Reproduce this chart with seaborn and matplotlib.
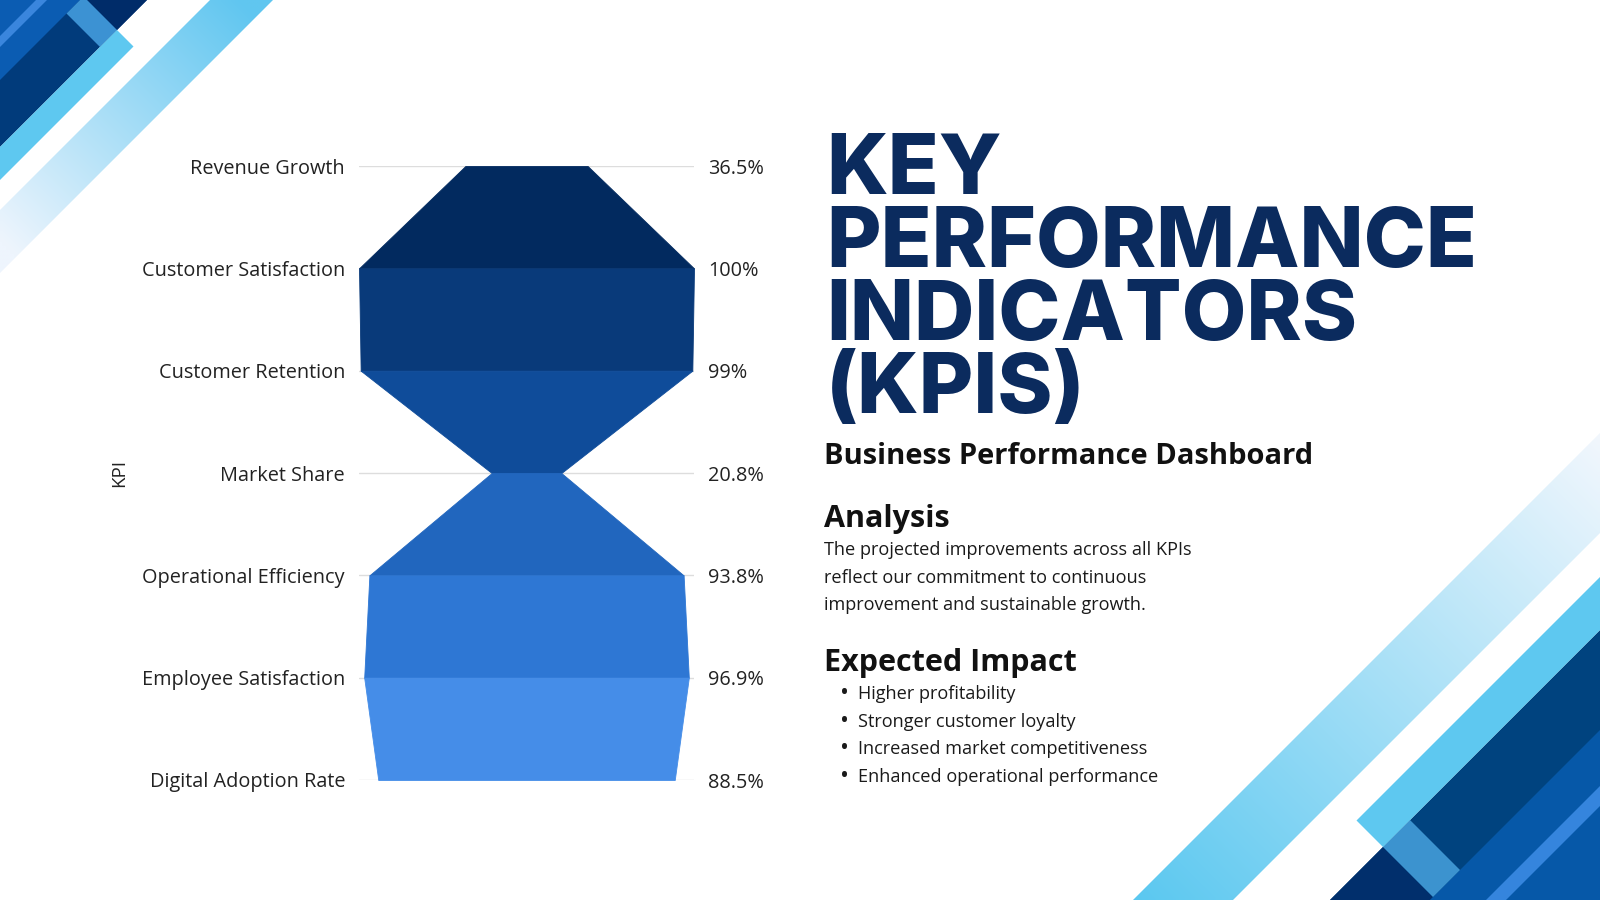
import numpy as np
import pandas as pd
import matplotlib
matplotlib.use("Agg")
import matplotlib.pyplot as plt
from matplotlib.patches import Polygon
import seaborn as sns

# ================================
# Data
# ================================
kpis = ["Revenue Growth", "Customer Satisfaction", "Customer Retention", "Market Share",
        "Operational Efficiency", "Employee Satisfaction", "Digital Adoption Rate"]
values = [36.5, 100, 99, 20.8, 93.8, 96.9, 88.5]
band_colors = ["#022a5f", "#093a7a", "#0f4c9a", "#2166be", "#2e77d4", "#458de8"]

title_lines = ["KEY", "PERFORMANCE", "INDICATORS", "(KPIS)"]
subtitle = "Business Performance Dashboard"
analysis_lines = ["The projected improvements across all KPIs",
                  "reflect our commitment to continuous",
                  "improvement and sustainable growth."]
impact_items = ["Higher profitability", "Stronger customer loyalty",
                "Increased market competitiveness", "Enhanced operational performance"]

sns.set_theme(style="white")
plt.rcParams["font.family"] = ["Open Sans", "DejaVu Sans"]

df = pd.DataFrame({"kpi": kpis, "value": values})
df["pos"] = np.arange(len(df))
df["half"] = df["value"] / 2
df["label"] = [f"{v:g}%" for v in df["value"]]

fig = plt.figure(figsize=(16, 9), dpi=100)
fig.patch.set_facecolor("white")

# ================================
# Background decoration (pixel coords, y down)
# ================================
bg = fig.add_axes([0, 0, 1, 1], zorder=0)
bg.set_xlim(0, 1600)
bg.set_ylim(900, 0)
bg.axis("off")


def uv_poly(u0, u1, v0, v1):
    # u = x + y, v = x - y  -> diagonal stripes
    pts = [(u0, v0), (u1, v0), (u1, v1), (u0, v1)]
    return [((u + v) / 2, (u - v) / 2) for u, v in pts]


def stripe(u0, u1, v0, v1, color):
    bg.add_patch(Polygon(uv_poly(u0, u1, v0, v1), closed=True, color=color, lw=0))


def grad_stripe(u0, u1, v_dark, v_light, c_dark, c_light):
    xs = np.linspace(0, 1600, 400)
    ys = np.linspace(0, 900, 225)
    X, Y = np.meshgrid(xs, ys)
    t = np.clip(((X - Y) - v_dark) / (v_light - v_dark), 0, 1)[..., None]
    c0 = np.array(matplotlib.colors.to_rgb(c_dark))
    c1 = np.array(matplotlib.colors.to_rgb(c_light))
    img = c0 * (1 - t) + c1 * t
    im = bg.imshow(img, extent=[0, 1600, 900, 0], aspect="auto", interpolation="bilinear")
    clip = Polygon(uv_poly(u0, u1, -4000, 4000), closed=True, transform=bg.transData)
    im.set_clip_path(clip)


BIG = 4000
# top-left corner
stripe(-10, 147, -BIG, BIG, "#013b7b")
stripe(80, 147, 87, BIG, "#002c69")
stripe(-10, 80, -BIG, BIG, "#0b5cb2")
stripe(36, 47, -BIG, BIG, "#3a86dd")
stripe(80, 147, 53, 87, "#3c92d3")
stripe(147, 180, -BIG, 87, "#5ec8f0")
grad_stripe(210, 273, 240, -240, "#60c6f0", "#eef5fd")
# bottom-right corner
stripe(2230, 3000, -BIG, BIG, "#00437f")
stripe(2230, 2330, -BIG, 536, "#012f6c")
stripe(2330, 3000, -BIG, BIG, "#0658a8")
stripe(2386, 2406, -BIG, BIG, "#3585dd")
stripe(2230, 2330, 536, 590, "#3c93cf")
stripe(2177, 2230, 536, BIG, "#5ec8f0")
grad_stripe(2033, 2133, 237, 1167, "#5bc8f0", "#f2f7fd")
bg.set_xlim(0, 1600)
bg.set_ylim(900, 0)

# ================================
# Funnel chart
# ================================
ax = fig.add_axes([359 / 1600, 1 - 780 / 900, 335 / 1600, 614 / 900], zorder=2)
ax.patch.set_alpha(0)
half = df["half"].to_numpy()
for i in range(len(df) - 1):
    ax.fill_betweenx([i, i + 1], [-half[i], -half[i + 1]], [half[i], half[i + 1]],
                     color=band_colors[i], lw=0.6, edgecolor=band_colors[i], zorder=2)
ax.set_xlim(-50, 50)
ax.set_ylim(len(df) - 1, 0)
ax.set_xticks([])
ax.set_yticks(df["pos"])
ax.set_yticklabels(df["kpi"])
ax.tick_params(axis="y", length=0, pad=10, labelsize=14.3, labelcolor="#222222")
ax.grid(axis="y", color="#dddddd", lw=1)
ax.set_axisbelow(True)
ax.set_ylabel("KPI", fontsize=13.5, color="#222222")
ax.yaxis.set_label_coords(-0.69, 0.5)
sns.despine(ax=ax, left=True, bottom=True)

ax2 = ax.twinx()
ax2.patch.set_alpha(0)
ax2.set_ylim(ax.get_ylim())
ax2.set_yticks(df["pos"])
ax2.set_yticklabels(df["label"])
ax2.tick_params(axis="y", length=0, pad=10, labelsize=14.3, labelcolor="#222222")
ax2.grid(False)
sns.despine(ax=ax2, left=True, bottom=True, right=True)

# ================================
# Text panel
# ================================
navy = "#0b2b5e"
title_base = [194, 267, 340, 413]
title_txt = [bg.text(826, yb, s, fontsize=56, fontweight="heavy", color=navy,
                     family=["Inter", "DejaVu Sans"], va="baseline", ha="left")
             for s, yb in zip(title_lines, title_base)]

sub = bg.text(824, 464, subtitle, fontsize=21, fontweight="bold", color="#111111", va="baseline")
h1 = bg.text(824, 527, "Analysis", fontsize=22, fontweight="bold", color="#111111", va="baseline")
body = [bg.text(824, yb, s, fontsize=13.1, color="#1a1a1a", va="baseline")
        for s, yb in zip(analysis_lines, [555, 583, 610])]
h2 = bg.text(824, 671, "Expected Impact", fontsize=22, fontweight="bold", color="#111111", va="baseline")
for s, yb in zip(impact_items, [699, 727, 754, 782]):
    bg.text(840, yb + 1, "\u2022", fontsize=17, color="#1a1a1a", va="baseline")
    bg.text(858, yb, s, fontsize=13.1, color="#1a1a1a", va="baseline")

# fit title width to the reference
fig.canvas.draw()
r = fig.canvas.get_renderer()
w = title_txt[1].get_window_extent(r).width
k = 650 / w
for t in title_txt:
    t.set_fontsize(t.get_fontsize() * k)

fig.savefig("out.png", dpi=100, facecolor="white")
